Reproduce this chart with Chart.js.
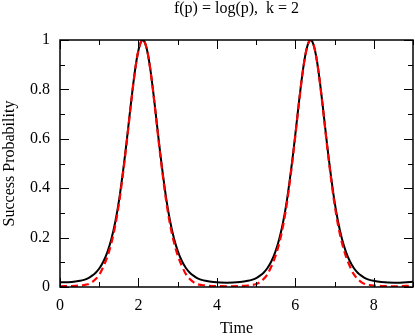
<!DOCTYPE html>
<html>
<head>
    <title>Success Probability over Time</title>
    <script src="https://cdn.jsdelivr.net/npm/chart.js@4.4.1/dist/chart.umd.min.js"></script>
    <style>
        html, body {
            margin: 0;
            padding: 0;
            background: #ffffff;
        }
        .wrap {
            width: 415px;
            height: 336px;
        }
    </style>
</head>

<body>
    <div class="wrap">
        <canvas id="probChart" width="415" height="336"></canvas>
    </div>
    <script>
        // values
        const chartTitle = "f(p) = log(p),  k = 2";
        const xLabel = "Time";
        const yLabel = "Success Probability";

        const timePoints = [
            0, 0.3, 0.51, 0.61, 0.71, 0.81, 0.91, 1.01, 1.11, 1.21, 1.31, 1.41, 1.51, 1.61, 1.66, 1.71, 1.76, 1.81, 1.86, 1.91, 1.96, 2.01, 2.06, 2.11,
            2.16, 2.21, 2.26, 2.31, 2.36, 2.41, 2.46, 2.51, 2.56, 2.61, 2.71, 2.81, 2.91, 3.01, 3.11, 3.21, 3.31, 3.41, 3.51, 3.61, 3.71, 3.91, 4.25,
            4.59, 4.79, 4.89, 4.99, 5.09, 5.19, 5.29, 5.39, 5.49, 5.59, 5.69, 5.79, 5.89, 5.94, 5.99, 6.04, 6.09, 6.14, 6.19, 6.24, 6.29, 6.34, 6.39,
            6.44, 6.49, 6.54, 6.59, 6.64, 6.69, 6.74, 6.79, 6.84, 6.89, 6.99, 7.09, 7.19, 7.29, 7.39, 7.49, 7.59, 7.69, 7.79, 7.89, 7.99, 8.19, 8.53, 9.0
        ];

        // solid black curve
        const solidCurve = [
            0.019, 0.02, 0.025, 0.029, 0.035, 0.045, 0.058, 0.077, 0.104, 0.142, 0.194, 0.264, 0.356, 0.472, 0.536, 0.604, 0.675, 0.745, 0.812, 0.874, 0.926, 0.966, 0.991, 1.0,
            0.991, 0.966, 0.926, 0.874, 0.812, 0.745, 0.675, 0.604, 0.536, 0.472, 0.356, 0.264, 0.194, 0.142, 0.104, 0.077, 0.058, 0.045, 0.035, 0.029, 0.025, 0.02, 0.017,
            0.02, 0.025, 0.029, 0.035, 0.045, 0.058, 0.077, 0.104, 0.142, 0.194, 0.264, 0.356, 0.472, 0.536, 0.604, 0.675, 0.745, 0.812, 0.874, 0.926, 0.966, 0.991, 1.0,
            0.991, 0.966, 0.926, 0.874, 0.812, 0.745, 0.675, 0.604, 0.536, 0.472, 0.356, 0.264, 0.194, 0.142, 0.104, 0.077, 0.058, 0.045, 0.035, 0.029, 0.025, 0.02, 0.017, 0.021
        ];

        // dashed red curve
        const dashedCurve = [
            0.003, 0.004, 0.006, 0.008, 0.011, 0.019, 0.032, 0.052, 0.084, 0.124, 0.178, 0.25, 0.345, 0.464, 0.529, 0.598, 0.67, 0.741, 0.81, 0.872, 0.925, 0.966, 0.991, 1.0,
            0.991, 0.966, 0.925, 0.872, 0.81, 0.741, 0.67, 0.598, 0.529, 0.464, 0.345, 0.25, 0.178, 0.124, 0.084, 0.052, 0.032, 0.019, 0.011, 0.008, 0.006, 0.004, 0.003,
            0.004, 0.006, 0.008, 0.011, 0.019, 0.032, 0.052, 0.084, 0.124, 0.178, 0.25, 0.345, 0.464, 0.529, 0.598, 0.67, 0.741, 0.81, 0.872, 0.925, 0.966, 0.991, 1.0,
            0.991, 0.966, 0.925, 0.872, 0.81, 0.741, 0.67, 0.598, 0.529, 0.464, 0.345, 0.25, 0.178, 0.124, 0.084, 0.052, 0.032, 0.019, 0.011, 0.008, 0.006, 0.004, 0.003, 0.005
        ];

        const xLabelled = [0, 2, 4, 6, 8];
        const yLabelled = [0, 0.2, 0.4, 0.6, 0.8, 1];

        const serif = "'Liberation Serif', 'DejaVu Serif', serif";

        function toPoints(values) {
            return timePoints.map((t, i) => ({ x: t, y: values[i] }));
        }

        function isLabelled(list, v) {
            return list.some(l => Math.abs(l - v) < 1e-6);
        }

        // gnuplot-like frame: box all round with inward ticks on every side
        const frameTicks = {
            id: "frameTicks",
            afterDatasetsDraw(chart) {
                const { ctx, chartArea: a, scales } = chart;
                ctx.save();
                ctx.strokeStyle = "#000";
                ctx.lineWidth = 1;
                ctx.beginPath();
                scales.x.ticks.forEach(tk => {
                    const px = Math.round(scales.x.getPixelForValue(tk.value)) + 0.5;
                    const len = isLabelled(xLabelled, tk.value) ? 9 : 5;
                    ctx.moveTo(px, a.bottom);
                    ctx.lineTo(px, a.bottom - len);
                    ctx.moveTo(px, a.top);
                    ctx.lineTo(px, a.top + len);
                });
                scales.y.ticks.forEach(tk => {
                    const py = Math.round(scales.y.getPixelForValue(tk.value)) + 0.5;
                    const len = isLabelled(yLabelled, tk.value) ? 9 : 5;
                    ctx.moveTo(a.left, py);
                    ctx.lineTo(a.left + len, py);
                    ctx.moveTo(a.right, py);
                    ctx.lineTo(a.right - len, py);
                });
                ctx.stroke();
                ctx.lineWidth = 1.5;
                ctx.strokeRect(a.left, a.top, a.right - a.left, a.bottom - a.top);
                ctx.restore();
            },
            afterDraw(chart) {
                const { ctx, chartArea: a } = chart;
                ctx.save();
                ctx.fillStyle = "#000";
                ctx.font = "16px " + serif;
                ctx.textAlign = "center";
                ctx.textBaseline = "middle";
                ctx.fillText(chartTitle, (a.left + a.right) / 2, 9);
                ctx.restore();
            }
        };

        const ctx = document.getElementById("probChart").getContext("2d");
        new Chart(ctx, {
            type: "line",
            data: {
                datasets: [
                    {
                        label: "dashed",
                        data: toPoints(dashedCurve),
                        borderColor: "#ff0000",
                        borderWidth: 2.2,
                        borderDash: [7, 4],
                        pointRadius: 0,
                        cubicInterpolationMode: "monotone",
                        fill: false
                    },
                    {
                        label: "solid",
                        data: toPoints(solidCurve),
                        borderColor: "#000000",
                        borderWidth: 2,
                        pointRadius: 0,
                        cubicInterpolationMode: "monotone",
                        fill: false
                    }
                ]
            },
            options: {
                responsive: false,
                animation: false,
                layout: { padding: { top: 40, right: 2, left: 0, bottom: 0 } },
                plugins: {
                    legend: { display: false },
                    title: { display: false },
                    tooltip: { enabled: false }
                },
                scales: {
                    x: {
                        type: "linear",
                        min: 0,
                        max: 9,
                        grid: { display: false, drawTicks: false },
                        border: { display: false },
                        ticks: {
                            stepSize: 1,
                            padding: 9,
                            maxRotation: 0,
                            color: "#000",
                            font: { family: serif, size: 16 },
                            callback: v => isLabelled(xLabelled, v) ? String(v) : ""
                        },
                        title: {
                            display: true,
                            text: xLabel,
                            color: "#000",
                            font: { family: serif, size: 16 },
                            padding: { top: 0, bottom: -2 }
                        },
                        afterFit: scale => {
                            scale.height = 49;
                            scale.paddingLeft = 0;
                            scale.paddingRight = 0;
                        }
                    },
                    y: {
                        min: 0,
                        max: 1,
                        grid: { display: false, drawTicks: false },
                        border: { display: false },
                        ticks: {
                            stepSize: 0.1,
                            padding: 10,
                            color: "#000",
                            font: { family: serif, size: 16 },
                            callback: v => isLabelled(yLabelled, v) ? String(Math.round(v * 10) / 10) : ""
                        },
                        title: {
                            display: true,
                            text: yLabel,
                            color: "#000",
                            font: { family: serif, size: 16 },
                            padding: { top: 0, bottom: 0 }
                        },
                        afterFit: scale => { scale.width = 60; }
                    }
                }
            },
            plugins: [frameTicks]
        });
    </script>
</body>
</html>
